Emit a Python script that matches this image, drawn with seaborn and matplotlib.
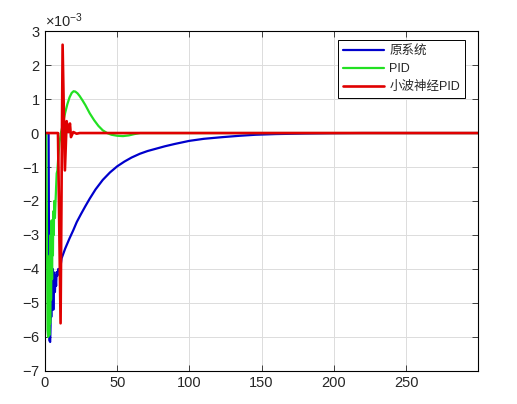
import numpy as np
import pandas as pd
import matplotlib
matplotlib.use("Agg")
import matplotlib.pyplot as plt
import seaborn as sns
from matplotlib.ticker import ScalarFormatter

# values, y in units of 1e-3
t_orig = [0, 2.5, 3.0, 3.6, 4.0, 4.6, 4.6, 5.0, 5.4, 5.8, 6.2, 6.9, 7.3, 7.7, 8.1, 8.6, 9.2, 10.4,
          11.5, 14, 17, 19.6, 22, 25, 28, 31, 35, 40, 45, 50, 55, 60, 65.7, 71, 77, 83, 90, 100,
          110, 123, 135, 146, 160, 180, 200, 220, 300]
y_orig = [0, 0, -6.1, -6.15, -5.4, -5.4, -4.16, -4.4, -4.0, -5.2, -4.1, -4.68, -4.2, -4.5, -4.09, -4.2,
          -4.0, -4.04, -3.69, -3.4, -3.1, -2.86, -2.62, -2.38, -2.15, -1.93, -1.66, -1.38, -1.16, -0.98,
          -0.84, -0.72, -0.61, -0.53, -0.46, -0.39, -0.32, -0.23, -0.17, -0.12, -0.08, -0.05, -0.03,
          -0.015, -0.005, 0, 0]

t_pid = [0, 0.8, 1.3, 1.8, 2.2, 2.6, 3.0, 3.3, 3.6, 3.9, 4.2, 4.6, 4.9, 5.2, 5.5, 5.8, 6.1, 6.4, 6.9,
         7.3, 7.7, 8.1, 8.6, 9.2, 10.0, 11.0, 12.0, 13.0, 14.0, 15.5, 17.0, 18.5, 19.8, 21.0, 22.5,
         24.0, 26.0, 28.0, 31.0, 34.0, 37.0, 40.0, 43.0, 46.0, 50.0, 54.0, 58.0, 62.0, 66.0, 75.0, 300]
y_pid = [0, 0, -2.5, -5.8, -6.0, -4.6, -5.95, -3.6, -5.6, -3.0, -4.9, -2.57, -4.3, -2.7, -3.6, -2.3,
         -3.0, -2.0, -2.5, -2.04, -1.6, -1.19, -1.1, -0.7, -0.3, 0.0, 0.18, 0.4, 0.6, 0.85, 1.05, 1.18,
         1.23, 1.22, 1.17, 1.09, 0.96, 0.82, 0.58, 0.38, 0.21, 0.08, 0.0, -0.05, -0.08, -0.09, -0.07,
         -0.03, 0.0, 0.0, 0.0]

t_wnn = [0, 9.0, 10.8, 12.2, 13.8, 15.0, 16.1, 17.3, 18.0, 19.6, 21.9, 24, 300]
y_wnn = [0, 0, -5.6, 2.6, -1.1, 0.35, 0.03, 0.28, -0.12, 0.03, -0.02, 0, 0]

series = ["原系统", "PID", "小波神经PID"]
colors = ["#0000cc", "#22e022", "#e00000"]
widths = [1.6, 1.6, 1.9]

frames = []
for name, t, y in zip(series, [t_orig, t_pid, t_wnn], [y_orig, y_pid, y_wnn]):
    frames.append(pd.DataFrame({"t": t, "y": np.array(y) * 1e-3, "series": name}))
df = pd.concat(frames, ignore_index=True)

sns.set_style("white")
plt.rcParams["font.family"] = ["Liberation Sans", "Noto Sans CJK SC", "DejaVu Sans"]
plt.rcParams["axes.unicode_minus"] = False
plt.rcParams["mathtext.fontset"] = "custom"
plt.rcParams["mathtext.rm"] = "Liberation Sans"
plt.rcParams["mathtext.it"] = "Liberation Sans"

fig = plt.figure(figsize=(5.17, 4.04), dpi=100)
ax = fig.add_axes([0.087, 0.082, 0.838, 0.841])

for name, c, lw in zip(series, colors, widths):
    sns.lineplot(data=df[df["series"] == name], x="t", y="y", color=c, linewidth=lw,
                 estimator=None, sort=False, label=name, ax=ax)

ax.set_xlim(0, 300)
ax.set_ylim(-7e-3, 3e-3)
ax.set_xticks([0, 50, 100, 150, 200, 250])
ax.set_yticks(np.arange(-7, 4) * 1e-3)
fmt = ScalarFormatter(useMathText=True)
fmt.set_powerlimits((-3, -3))
ax.yaxis.set_major_formatter(fmt)
ax.yaxis.get_offset_text().set_fontsize(10.5)
ax.set_xlabel("")
ax.set_ylabel("")
ax.grid(True, color="#dcdcdc", linewidth=0.7)
ax.set_axisbelow(True)
for s in ax.spines.values():
    s.set_color("black")
    s.set_linewidth(0.8)
ax.tick_params(direction="in", length=4, width=0.6, labelsize=10.5, colors="#262626",
               top=True, right=True, bottom=True, left=True)

leg = ax.legend(loc="upper right", bbox_to_anchor=(0.97, 0.974), borderaxespad=0, fontsize=9,
                frameon=True, fancybox=False, edgecolor="black", framealpha=1,
                handlelength=3.3, handletextpad=0.4, borderpad=0.4, labelspacing=0.5)
leg.get_frame().set_linewidth(0.7)

fig.savefig("out.png", dpi=100)
